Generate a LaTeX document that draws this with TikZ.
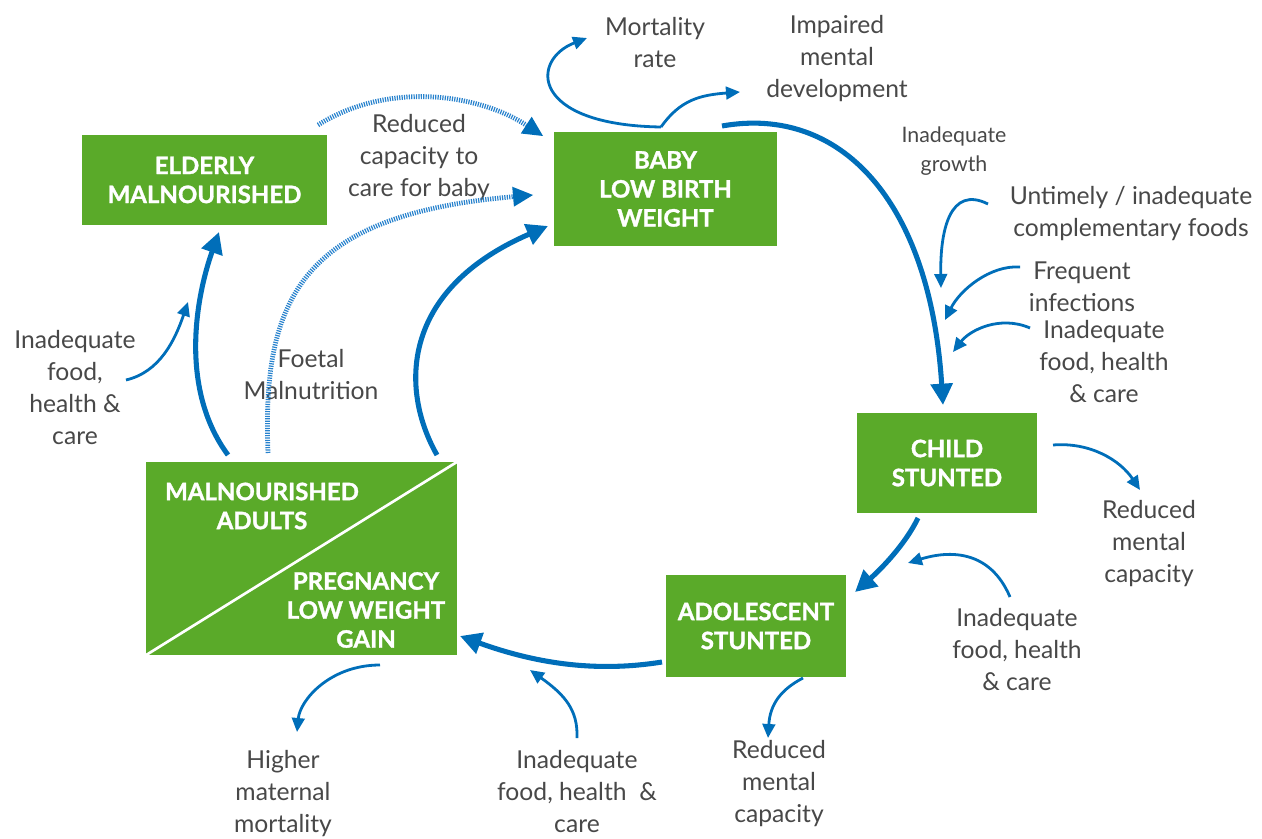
\documentclass[tikz,border=0pt]{standalone}
\usepackage{fontspec}
\setmainfont{Lato}
\newfontfamily\boxfont{Lato}[BoldFeatures={FakeBold=1.3}]
\usetikzlibrary{arrows.meta}
\definecolor{boxgreen}{RGB}{90,170,41}
\definecolor{arrblue}{RGB}{0,110,185}
\definecolor{dotblue}{RGB}{40,130,205}
\definecolor{txtgray}{RGB}{72,72,72}
\tikzset{
  box/.style={fill=boxgreen, text=white, font=\boxfont\bfseries\fontsize{18}{21.75}\selectfont, align=center, inner sep=0pt},
  boxtxt/.style={text=white, font=\boxfont\bfseries\fontsize{18}{21.75}\selectfont, align=center, inner sep=0pt},
  lbl/.style={text=txtgray, font=\fontsize{18.5}{24}\selectfont, align=center, inner sep=0pt},
  smlbl/.style={text=txtgray, font=\fontsize{16}{21.75}\selectfont, align=center, inner sep=0pt},
  mainarr/.style={draw=arrblue, line width=3.8pt, -{Triangle[length=16pt,width=16pt]}},
  thinarr/.style={draw=arrblue, line width=2.1pt, -{Triangle[length=10.5pt,width=9.5pt]}},
  dotarr/.style={draw=dotblue, line width=3.6pt, dash pattern=on 0.9pt off 0.9pt, -{Triangle[length=15pt,width=15pt,fill=arrblue,line width=0pt, sep=0pt]}},
}
\begin{document}
\begin{tikzpicture}[x=0.75pt,y=-0.75pt]
\useasboundingbox (0,0) rectangle (1262,838);
% boxes
\node[box, minimum width=183.75pt, minimum height=67.5pt] (elderly) at (204.5,180) {ELDERLY\\MALNOURISHED};
\node[box, minimum width=167.25pt, minimum height=85.5pt] (baby) at (665.5,189) {BABY\\LOW BIRTH\\WEIGHT};
\node[box, minimum width=135pt, minimum height=75pt] (child) at (947,463) {CHILD\\STUNTED};
\node[box, minimum width=135pt, minimum height=76.5pt] (adol) at (756,626) {ADOLESCENT\\STUNTED};
\node[box, minimum width=233.25pt, minimum height=144.75pt] (adults) at (301.5,558.5) {};
\draw[white, line width=2pt] (adults.south west) -- (adults.north east);
\node[boxtxt] (adultsA) at (262,506) {MALNOURISHED\\ADULTS};
\node[boxtxt] (adultsB) at (366,610) {PREGNANCY\\LOW WEIGHT\\GAIN};
% labels
\node[lbl] (mort) at (655,43) {Mortality\\rate};
\node[lbl] (impair) at (837,59) {Impaired\\mental\\development};
\node[lbl] (redcap) at (419,158) {Reduced\\capacity to\\care for baby};
\node[smlbl] (inagrow) at (954,151) {Inadequate\\growth};
\node[lbl] (untimely) at (1131,214) {Untimely / inadequate\\complementary foods};
\node[lbl] (freq) at (1082,287) {Frequent\\infections};
\node[lbl] (inad1) at (1104,362) {Inadequate\\food, health\\\& care};
\node[lbl] (redm1) at (1149,544) {Reduced\\mental\\capacity};
\node[lbl] (inad2) at (1017,650) {Inadequate\\food, health\\\& care};
\node[lbl] (redm2) at (779,784) {Reduced\\mental\\capacity};
\node[lbl] (inad3) at (577,792) {Inadequate\\food, health~~\&\\care};
\node[lbl] (higher) at (283,794) {Higher\\maternal\\mortality};
\node[lbl] (foetal) at (311,375) {Foetal\\Malnutrition};
\node[lbl] (inad4) at (75,388) {Inadequate\\food,\\health \&\\care};
% coordinates
\coordinate (b2c-s) at (722,126);
\coordinate (b2c-e) at (943,405);
\coordinate (c2a-s) at (918,518);
\coordinate (c2a-e) at (855,592);
\coordinate (a2p-s) at (662,662);
\coordinate (a2p-e) at (460,636);
\coordinate (p2b-s) at (437,455);
\coordinate (p2b-e) at (548,226);
\coordinate (p2e-s) at (228,455);
\coordinate (p2e-e) at (219,232);
\coordinate (d1-s) at (318,125);
\coordinate (d1-e) at (543,136);
\coordinate (d2-s) at (268,453);
\coordinate (d2-e) at (533,195);
\coordinate (fork) at (661,127);
\coordinate (mort-e) at (587,38);
\coordinate (imp-e) at (740,92);
\coordinate (unt-s) at (988,204);
\coordinate (unt-e) at (941,288);
\coordinate (freq-s) at (1020,267);
\coordinate (freq-e) at (945,320);
\coordinate (i1-s) at (1030,328);
\coordinate (i1-e) at (953,352);
\coordinate (rm1-s) at (1053,445);
\coordinate (rm1-e) at (1140,490);
\coordinate (i2-s) at (1010,597);
\coordinate (i2-e) at (908,563);
\coordinate (rm2-s) at (803,678);
\coordinate (rm2-e) at (768,738);
\coordinate (i3-s) at (577,738);
\coordinate (i3-e) at (530,670);
\coordinate (hm-s) at (380,665);
\coordinate (hm-e) at (297,732);
\coordinate (i4-s) at (126,380);
\coordinate (i4-e) at (188,302);
% main cycle
\draw[mainarr] (b2c-s) .. controls (840,105) and (930,200) .. (b2c-e);
\draw[mainarr] (c2a-s) .. controls (905,545) and (880,570) .. (c2a-e);
\draw[mainarr] (a2p-s) .. controls (600,672) and (540,665) .. (a2p-e);
\draw[mainarr] (p2b-s) .. controls (400,390) and (400,290) .. (p2b-e);
\draw[mainarr] (p2e-s) .. controls (180,390) and (195,300) .. (p2e-e);
% dotted
\draw[dotarr] (d1-s) .. controls (390,80) and (480,95) .. (d1-e);
\draw[dotarr] (d2-s) .. controls (262,300) and (300,215) .. (d2-e);
% thin arrows
\draw[thinarr] (fork) .. controls (530,125) and (530,60) .. (mort-e);
\draw[thinarr] (fork) .. controls (680,100) and (700,95) .. (imp-e);
\draw[thinarr] (unt-s) .. controls (950,185) and (940,230) .. (unt-e);
\draw[thinarr] (freq-s) .. controls (990,265) and (960,290) .. (freq-e);
\draw[thinarr] (i1-s) .. controls (1000,315) and (970,330) .. (i1-e);
\draw[thinarr] (rm1-s) .. controls (1090,442) and (1120,460) .. (rm1-e);
\draw[thinarr] (i2-s) .. controls (990,550) and (950,550) .. (i2-e);
\draw[thinarr] (rm2-s) .. controls (780,690) and (770,705) .. (rm2-e);
\draw[thinarr] (i3-s) .. controls (578,710) and (565,695) .. (i3-e);
\draw[thinarr] (hm-s) .. controls (330,665) and (300,700) .. (hm-e);
\draw[thinarr] (i4-s) .. controls (160,372) and (175,340) .. (i4-e);
\end{tikzpicture}
\end{document}
